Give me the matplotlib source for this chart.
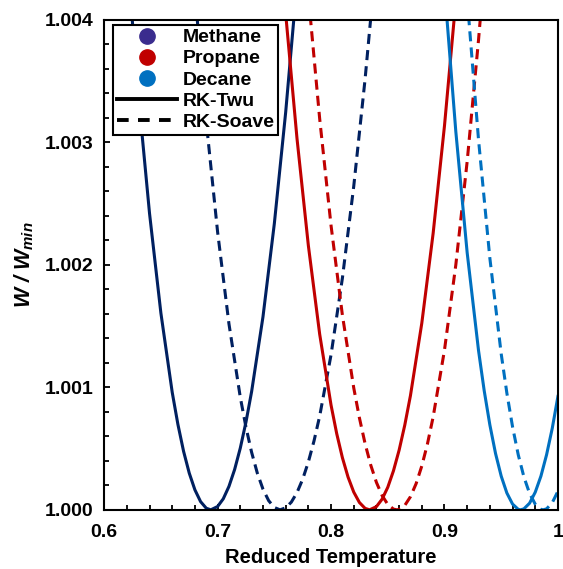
import numpy as np
import matplotlib.pyplot as plt
from matplotlib.lines import Line2D

# values (reduced temperature, W/Wmin)
methane_twu_x = [0.620, 0.630, 0.640, 0.650, 0.660, 0.665, 0.670, 0.675, 0.680, 0.685, 0.690, 0.694,
                 0.700, 0.705, 0.710, 0.715, 0.720, 0.725, 0.730, 0.740, 0.750, 0.760, 0.770]
methane_twu_y = [1.004545, 1.003400, 1.002420, 1.001607, 1.000959, 1.000698, 1.000478, 1.000300,
                 1.000163, 1.000067, 1.000013, 1.000000, 1.000027, 1.000090, 1.000191, 1.000329,
                 1.000504, 1.000716, 1.000966, 1.001576, 1.002336, 1.003245, 1.004303]

methane_soave_x = [0.680, 0.690, 0.700, 0.710, 0.720, 0.725, 0.730, 0.735, 0.740, 0.745, 0.750, 0.755,
                   0.760, 0.765, 0.770, 0.775, 0.780, 0.785, 0.790, 0.800, 0.810, 0.820, 0.830, 0.840]
methane_soave_y = [1.004219, 1.003169, 1.002269, 1.001519, 1.000919, 1.000675, 1.000469, 1.000300,
                   1.000169, 1.000075, 1.000019, 1.000000, 1.000016, 1.000063, 1.000141, 1.000250,
                   1.000391, 1.000563, 1.000766, 1.001266, 1.001891, 1.002641, 1.003516, 1.004516]

propane_twu_x = [0.760, 0.770, 0.780, 0.790, 0.800, 0.805, 0.810, 0.815, 0.820, 0.825, 0.830, 0.834,
                 0.840, 0.845, 0.850, 0.855, 0.860, 0.865, 0.870, 0.880, 0.890, 0.900, 0.910]
propane_twu_y = [1.004052, 1.003031, 1.002158, 1.001433, 1.000855, 1.000622, 1.000426, 1.000267,
                 1.000145, 1.000060, 1.000012, 1.000000, 1.000026, 1.000087, 1.000184, 1.000318,
                 1.000487, 1.000692, 1.000933, 1.001524, 1.002258, 1.003136, 1.004159]

propane_soave_x = [0.780, 0.790, 0.800, 0.810, 0.820, 0.825, 0.830, 0.835, 0.840, 0.845, 0.850, 0.855,
                   0.858, 0.860, 0.865, 0.870, 0.875, 0.880, 0.885, 0.890, 0.900, 0.910, 0.920, 0.930, 0.935]
propane_soave_y = [1.004198, 1.003191, 1.002321, 1.001590, 1.000996, 1.000751, 1.000541, 1.000365,
                   1.000224, 1.000117, 1.000044, 1.000006, 1.000000, 1.000003, 1.000036, 1.000107,
                   1.000214, 1.000358, 1.000539, 1.000758, 1.001305, 1.002001, 1.002845, 1.003836, 1.004387]

decane_twu_x = [0.900, 0.910, 0.920, 0.930, 0.935, 0.940, 0.945, 0.950, 0.955, 0.960, 0.965, 0.967,
                0.970, 0.975, 0.980, 0.985, 0.990, 0.995, 1.000]
decane_twu_y = [1.004265, 1.003087, 1.002099, 1.001301, 1.000973, 1.000693, 1.000460, 1.000275,
                1.000137, 1.000047, 1.000004, 1.000000, 1.000008, 1.000054, 1.000144, 1.000275,
                1.000450, 1.000666, 1.000926]

decane_soave_x = [0.920, 0.930, 0.940, 0.950, 0.955, 0.960, 0.965, 0.970, 0.975, 0.980, 0.985, 0.987,
                  0.990, 0.995, 1.000]
decane_soave_y = [1.004175, 1.003022, 1.002054, 1.001273, 1.000952, 1.000678, 1.000450, 1.000269,
                  1.000134, 1.000046, 1.000004, 1.000000, 1.000008, 1.000058, 1.000152]

compounds = ['Methane', 'Propane', 'Decane']
line_colors = ['#002060', '#C00000', '#0070C0']
marker_colors = ['#3A2C8E', '#C00000', '#0070C0']

plt.rcParams['font.family'] = 'Liberation Sans'
plt.rcParams['font.weight'] = 'bold'
plt.rcParams['mathtext.fontset'] = 'custom'
plt.rcParams['mathtext.it'] = 'Liberation Sans:italic:bold'
plt.rcParams['mathtext.rm'] = 'Liberation Sans:italic:bold'

fig = plt.figure(figsize=(5.63, 5.69), dpi=100)
ax = fig.add_axes([0.185, 0.104, 0.806, 0.861])

lw = 2.2
dash = (3.3, 2.0)
ax.plot(methane_twu_x, methane_twu_y, color=line_colors[0], lw=lw)
ax.plot(methane_soave_x, methane_soave_y, color=line_colors[0], lw=lw, dashes=dash)
ax.plot(propane_twu_x, propane_twu_y, color=line_colors[1], lw=lw)
ax.plot(propane_soave_x, propane_soave_y, color=line_colors[1], lw=lw, dashes=dash)
ax.plot(decane_twu_x, decane_twu_y, color=line_colors[2], lw=lw)
ax.plot(decane_soave_x, decane_soave_y, color=line_colors[2], lw=lw, dashes=dash)

ax.set_xlim(0.6, 1.0)
ax.set_ylim(1.000, 1.004)
ax.set_xticks([0.6, 0.7, 0.8, 0.9, 1.0])
ax.set_xticklabels(['0.6', '0.7', '0.8', '0.9', '1'])
ax.set_yticks([1.000, 1.001, 1.002, 1.003, 1.004])
ax.set_yticklabels(['1.000', '1.001', '1.002', '1.003', '1.004'])
ax.set_xticks(np.arange(0.6, 1.0001, 0.02), minor=True)
ax.set_yticks(np.arange(1.0, 1.00401, 0.0002), minor=True)
ax.tick_params(which='both', direction='in', labelsize=14, width=1.3, top=False, right=False)
ax.tick_params(axis='x', which='major', length=4.5, pad=10)
ax.tick_params(axis='y', which='major', length=4.5, pad=8)
ax.tick_params(which='minor', length=3.5)
for s in ax.spines.values():
    s.set_linewidth(1.5)

ax.set_xlabel('Reduced Temperature', fontsize=14.5, fontweight='bold', labelpad=5)
ax.set_ylabel(r'$W$ / $W_{min}$', fontsize=15.5, fontweight='bold', labelpad=6)
ax.yaxis.label.set_fontstyle('italic')

handles = [Line2D([], [], ls='none', marker='o', ms=11, color=c) for c in marker_colors]
handles.append(Line2D([], [], color='black', lw=2.8))
handles.append(Line2D([], [], color='black', lw=2.8, dashes=(3.0, 2.4)))
labels = compounds + ['RK-Twu', 'RK-Soave']
leg = ax.legend(handles, labels, loc='upper left', bbox_to_anchor=(0.02, 0.99), borderaxespad=0,
                fontsize=14, frameon=True, fancybox=False, framealpha=1, edgecolor='black',
                handlelength=3.1, handletextpad=0.25, labelspacing=0.18, borderpad=0.2)
leg.get_frame().set_linewidth(1.5)

fig.savefig('out.png', dpi=100)
